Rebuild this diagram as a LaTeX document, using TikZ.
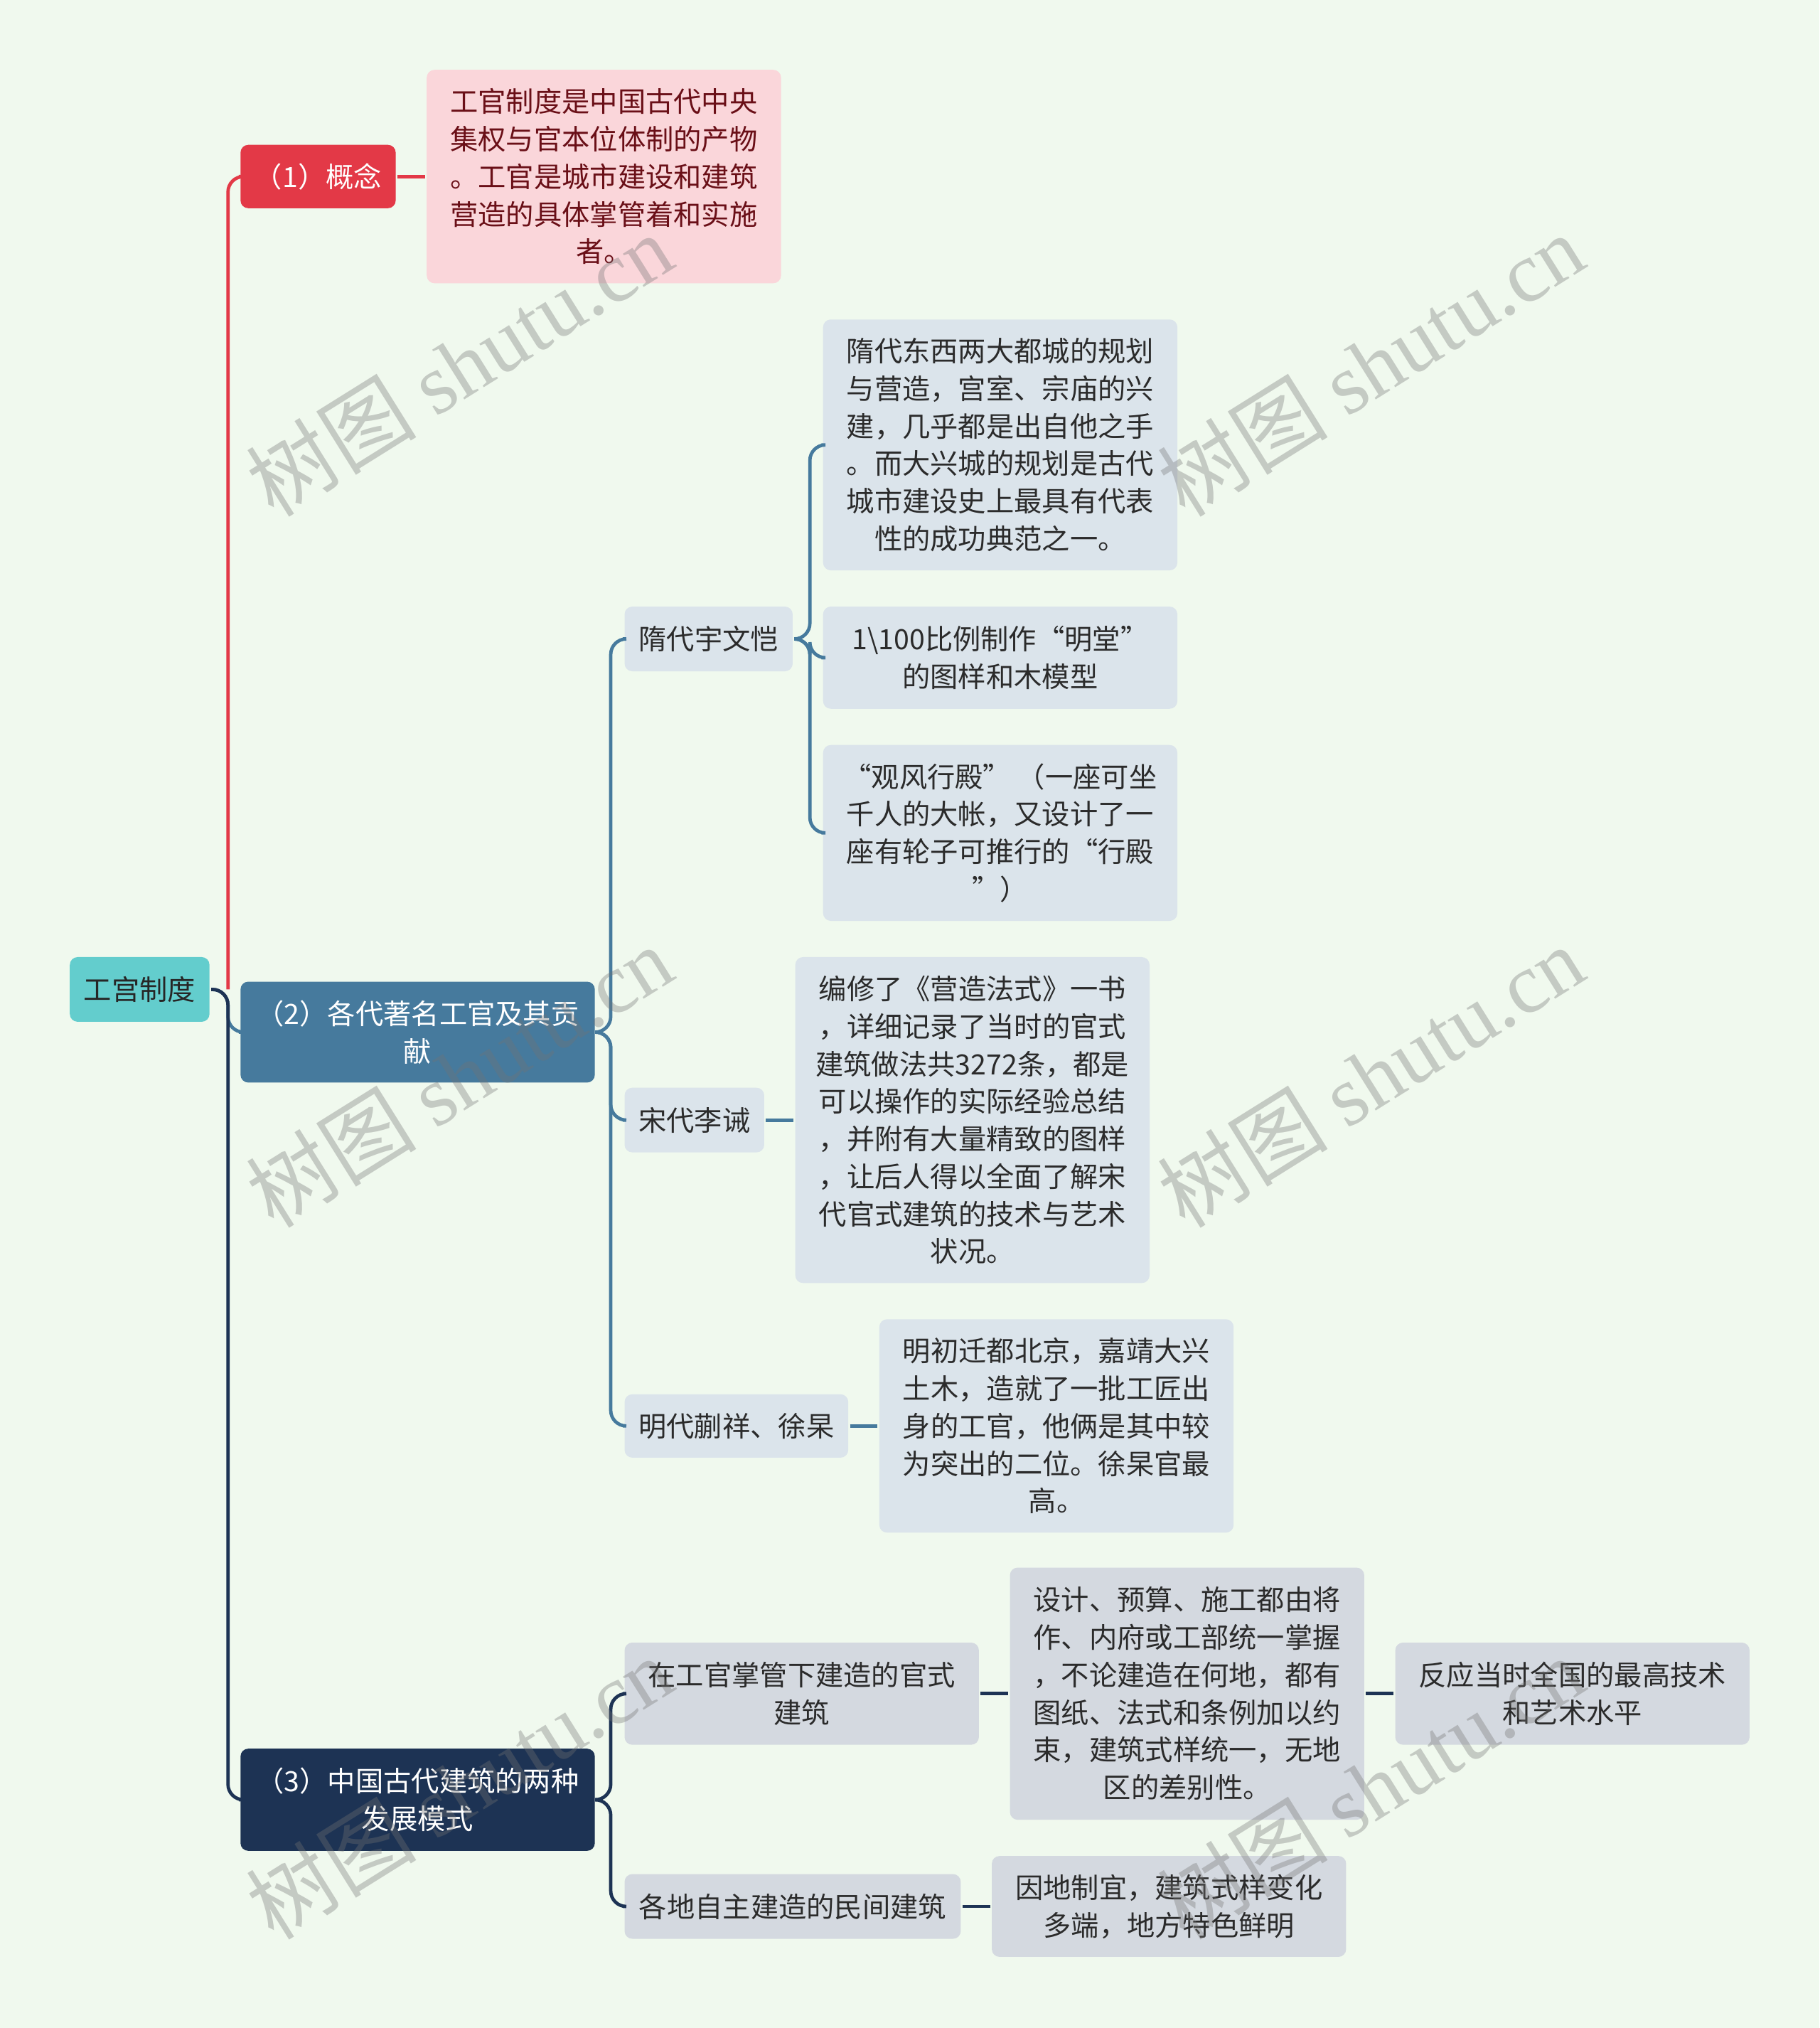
\documentclass[tikz,border=0pt]{standalone}
\usepackage{fontspec}
\setmainfont{Noto Sans CJK SC}
\newfontfamily\wmfont{Liberation Serif}

\definecolor{fondo}{HTML}{F0F9EE}
\definecolor{raiz}{HTML}{63CDCD}
\definecolor{rojo}{HTML}{E33947}
\definecolor{rosa}{HTML}{FAD6DA}
\definecolor{vino}{HTML}{6A0F17}
\definecolor{azul}{HTML}{467A9D}
\definecolor{azulclaro}{HTML}{DBE4EB}
\definecolor{marino}{HTML}{1D3354}
\definecolor{gris}{HTML}{D4D9E0}
\definecolor{texto}{HTML}{2B2B2B}

\begin{document}
\begin{tikzpicture}[x=0.5pt,y=-0.5pt,line width=1.3pt,
  caja/.style={rounded corners=3pt,align=center,inner sep=0pt,text=texto,
    font=\fontsize{10.8}{14.5}\selectfont},
  hoja/.style={caja,fill=azulclaro,minimum width=137pt},
  hojagris/.style={caja,fill=gris,minimum width=137pt},
  marca/.style={rotate=32,text=black!55,opacity=0.35,inner sep=0pt,
    font=\fontsize{33}{33}\selectfont}]
  % fondo
  \fill[fondo] (0,0) rectangle (1407,1568);
  \useasboundingbox (0,0) rectangle (1407,1568);
  % raiz
  \node[caja,fill=raiz,minimum width=54pt,minimum height=25pt,text=black!85] (root) at (108,765) {工宫制度};
  % ramas principales
  \node[caja,fill=rojo,text=white,minimum width=60pt,minimum height=24.5pt] (b1) at (246,136.5) {（1）概念};
  \node[caja,fill=azul,text=white,minimum width=137pt,minimum height=39pt] (b2) at (323,798) {（2）各代著名工官及其贡\\献};
  \node[caja,fill=marino,text=white,minimum width=137pt,minimum height=39.5pt] (b3) at (323,1391.5) {（3）中国古代建筑的两种\\发展模式};
  % (1) concepto
  \node[caja,fill=rosa,text=vino,minimum width=137pt,minimum height=82.5pt] (a1) at (467,136.5)
    {工官制度是中国古代中央\\集权与官本位体制的产物\\。工官是城市建设和建筑\\营造的具体掌管着和实施\\者。};
  % (2) personas
  \node[hoja,minimum width=65pt,minimum height=25pt] (c1) at (548,494) {隋代宇文恺};
  \node[hoja,minimum width=54pt,minimum height=25pt] (c2) at (537,866) {宋代李诫};
  \node[hoja,minimum width=86.5pt,minimum height=24.5pt] (c3) at (569.5,1102.5) {明代蒯祥、徐杲};
  \node[hoja,minimum height=97pt] (d1) at (773.5,344)
    {隋代东西两大都城的规划\\与营造，宫室、宗庙的兴\\建，几乎都是出自他之手\\。而大兴城的规划是古代\\城市建设史上最具有代表\\性的成功典范之一。};
  \node[hoja,minimum height=39.5pt] (d2) at (773.5,508.5)
    {1\textbackslash100比例制作“明堂”\\的图样和木模型};
  \node[hoja,minimum height=68pt] (d3) at (773.5,644)
    {“观风行殿” （一座可坐\\千人的大帐，又设计了一\\座有轮子可推行的“行殿\\”）};
  \node[hoja,minimum height=126pt] (e1) at (752,866)
    {编修了《营造法式》一书\\，详细记录了当时的官式\\建筑做法共3272条，都是\\可以操作的实际经验总结\\，并附有大量精致的图样\\，让后人得以全面了解宋\\代官式建筑的技术与艺术\\状况。};
  \node[hoja,minimum height=82.5pt] (f1) at (817,1102.5)
    {明初迁都北京，嘉靖大兴\\土木，造就了一批工匠出\\身的工官，他俩是其中较\\为突出的二位。徐杲官最\\高。};
  % (3) modelos
  \node[hojagris,minimum height=39.5pt] (g1) at (620,1309.5) {在工官掌管下建造的官式\\建筑};
  \node[hojagris,minimum height=97.5pt] (g1a) at (918,1309.5)
    {设计、预算、施工都由将\\作、内府或工部统一掌握\\，不论建造在何地，都有\\图纸、法式和条例加以约\\束，建筑式样统一，无地\\区的差别性。};
  \node[hojagris,minimum height=39.5pt] (g1b) at (1216,1309.5) {反应当时全国的最高技术\\和艺术水平};
  \node[hojagris,minimum width=130pt,minimum height=25pt] (g2) at (613,1474) {各地自主建造的民间建筑};
  \node[hojagris,minimum height=39pt] (g2a) at (904,1474) {因地制宜，建筑式样变化\\多端，地方特色鲜明};
  % conectores
  \draw[azul,rounded corners=6pt] (root.east) -- ++(13,0) |- (b2.west);
  \draw[marino,rounded corners=6pt] (root.east) -- ++(13,0) |- (b3.west);
  \draw[rojo,rounded corners=6pt] (root.east) ++(13,0) |- (b1.west);
  \draw[rojo] (b1.east) -- (a1.west);
  \foreach \n in {c1,c2,c3}
    \draw[azul,rounded corners=6pt] (b2.east) -- ++(11,0) |- (\n.west);
  \foreach \n in {d1,d2,d3}
    \draw[azul,rounded corners=6pt] (c1.east) -- ++(12,0) |- (\n.west);
  \draw[azul] (c2.east) -- (e1.west);
  \draw[azul] (c3.east) -- (f1.west);
  \foreach \n in {g1,g2}
    \draw[marino,rounded corners=6pt] (b3.east) -- ++(11,0) |- (\n.west);
  \draw[marino] (g1.east) -- (g1a.west);
  \draw[marino] (g1a.east) -- (g1b.west);
  \draw[marino] (g2.east) -- (g2a.west);
  % marcas de agua
  \foreach \x/\y [count=\i] in {355/282,1060/282,355/832,1060/832,355/1382,1060/1382}
    \node[marca] (wm\i) at (\x,\y) {树图 {\wmfont shutu.cn}};
\end{tikzpicture}
\end{document}
